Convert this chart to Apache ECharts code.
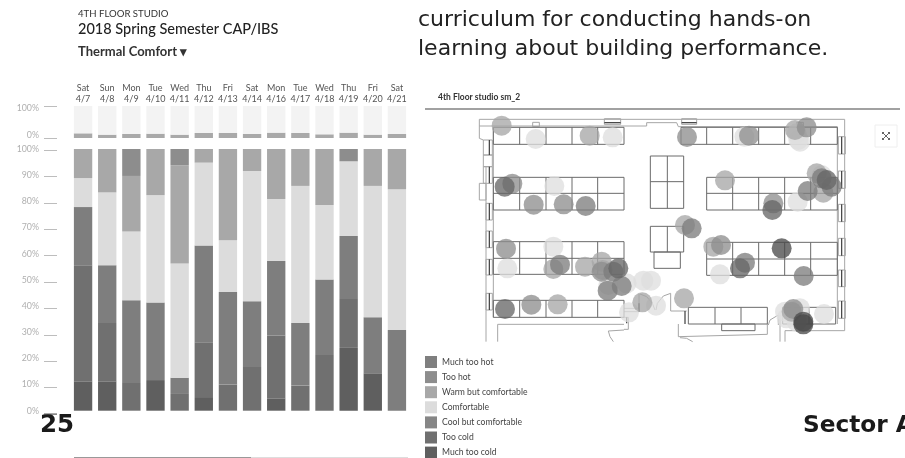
<!DOCTYPE html>
<html><head><meta charset="utf-8">
<style>html,body{margin:0;padding:0;background:#fff}#c{width:905px;height:458px}</style>
<script src="https://cdn.jsdelivr.net/npm/echarts@6/dist/echarts.min.js"></script>
</head><body><div id="c"></div>
<script>
const weekdays=['Sat','Sun','Mon','Tue','Wed','Thu','Fri','Sat','Mon','Tue','Wed','Thu','Fri','Sat'];
const dates=['4/7','4/8','4/9','4/10','4/11','4/12','4/13','4/14','4/16','4/17','4/18','4/19','4/20','4/21'];
const responseShare=[14.6,10.4,12.5,13.5,10.4,15.6,15.6,12.5,16.7,15.6,11.5,16.7,10.4,12.5];
const muchTooCold=[11.2,11.2,0,11.7,0,5.2,0,0,4.7,0,0,24,14.3,0];
const tooCold=[44.4,22.3,10.6,0,6.4,21,10,16.7,24,9.6,21.3,18.7,0,0];
const coolComfortable=[22.2,22.1,31.6,29.6,6.2,36.9,35.4,25.1,28.5,23.9,28.8,24.1,21.4,30.8];
const comfortable=[11.1,27.8,26.3,41.1,43.6,31.7,19.7,49.8,23.7,52.4,28.5,28.5,50.2,53.8];
const warmComfortable=[11.1,16.6,21.2,17.6,37.6,5.2,34.9,8.4,19.1,14.1,21.4,0,14.1,15.4];
const tooHot=[0,0,10.3,0,6.2,0,0,0,0,0,0,4.7,0,0];
const muchTooHot=[0,0,0,0,0,0,0,0,0,0,0,0,0,0];
const pctTicks=v=>v+'%';

// Occupant votes on the floor plan (plan units)
const votesComfortable=[[347,147],[578,142],[973,140],[1130,130],[1135,150],[1140,155],[403,288],[1205,255],[1133,335],[400,470],[262,535],[620,580],[670,572],[693,572],[565,585],[708,647],[627,667],[900,553],[1095,665],[1140,655],[1100,685],[1130,695],[1212,672]];
const votesWarm=[[245,107],[509,137],[915,271],[1190,250],[1125,120],[1210,308],[795,405],[880,470],[400,537],[495,530],[545,515],[548,540],[667,637],[792,625],[413,643],[1115,665]];
const votesTooHot=[[277,281],[341,344],[431,343],[801,141],[987,137],[1160,112],[258,476],[334,644],[545,545],[1120,657],[903,465],[1060,340]];
const votesCool=[[497,348],[1205,265],[1163,303],[1235,290],[975,518],[1151,558],[580,545],[815,415],[420,524],[605,588],[563,602]];
const votesTooCold=[[254,290],[1057,360],[960,535],[255,657],[595,535],[1220,270]];
const votesMuchTooCold=[[1085,475],[1150,695],[1150,703]];

// Floor plan geometry (plan units)
const deskRects=[[220,112,612,163],[783,112,1252,163],[220,262,612,360],[860,262,1252,360],[691,198,791,355],[691,409,791,486],[702,486,781,535],[220,455,612,553],[860,457,1252,556],[220,631,612,682],[805,652,1042,702],[905,702,1005,722],[1088,652,1247,702]];
const deskLines=[[220,310,612,310],[860,310,1252,310],[691,275,791,275],[220,505,612,505],[860,507,1252,507],
[299,112,299,163],[378,112,378,163],[456,112,456,163],[533,112,533,163],
[299,262,299,360],[378,262,378,360],[456,262,456,360],[533,262,533,360],
[299,455,299,553],[378,455,378,553],[456,455,456,553],[533,455,533,553],
[299,631,299,682],[378,631,378,682],[456,631,456,682],[533,631,533,682],
[860,112,860,163],[938,112,938,163],[1016,112,1016,163],[1094,112,1094,163],[1172,112,1172,163],
[938,262,938,360],[1016,262,1016,360],[1094,262,1094,360],[1172,262,1172,360],
[938,457,938,556],[1016,457,1016,556],[1094,457,1094,556],[1172,457,1172,556],
[742,198,742,355],[742,409,742,486],[885,652,885,702],[963,652,963,702],[1167,652,1167,702]];
const wallPaths=[[178,145,178,88,1274,88,1274,140],[178,145,190,150],[178,108,680,108,680,98,770,98,775,110,1252,110],
[220,112,220,682],[198,230,198,755],[1252,110,1252,702],[1274,140,1274,722],
[1095,755,1095,722,1274,722],[1080,675,1080,755],[233,755,233,703,612,703],[612,682,625,682,625,718,612,718],
[612,655,655,655],[612,665,655,665],[660,612,680,620,697,640,705,660],[752,610,730,618,712,640,708,660],
[657,612,657,665],[752,610,752,663,800,663],[775,702,775,740,1042,733,1042,702],[1045,705,1050,690,1075,675,1075,705],
[580,755,570,740,565,723,612,720],[780,743,800,745,818,755]];
const wallRects=[[190,150,217,195],[190,195,217,230],[190,230,217,280],[178,280,198,330],[198,340,217,390],[198,423,217,473],[198,508,217,555],[198,610,217,660],
[1255,140,1276,192],[1255,243,1276,295],[1255,343,1276,395],[1255,445,1276,497],[1255,540,1276,590],[1255,633,1276,685],
[553,86,602,103],[785,86,830,103],[338,97,358,110],[1130,97,1150,110]];
const windowLines=[[208,150,208,195],[208,230,208,280],[208,340,208,390],[208,423,208,473],[208,508,208,555],[208,610,208,660],
[1265,140,1265,192],[1265,243,1265,295],[1265,343,1265,395],[1265,445,1265,497],[1265,540,1265,590],[1265,633,1265,685],[553,98,602,98],[785,98,830,98],[657,640,657,665],[795,663,795,702],[620,682,620,700]];

const COL={mc:'#5f5f5f',tc:'#707070',cc:'#7e7e7e',co:'#dcdcdc',wa:'#a8a8a8',th:'#8d8d8d',mh:'#7f7f7f'};
const F='Lato',D='DejaVu Sans';
const categories=weekdays.map((d,i)=>d+'\n'+dates[i]);
const left=71,w=338;

function rectPath(r){return [r[0],r[1],r[2],r[1],r[2],r[3],r[0],r[3],r[0],r[1]];}
const planPaths=[
 ...wallPaths.map(p=>({p,c:'#a6a6a6',w:1})),
 ...wallRects.map(r=>({p:rectPath(r),c:'#a6a6a6',w:1})),
 ...deskRects.map(r=>({p:rectPath(r),c:'#6a6a6a',w:1})),
 ...deskLines.map(p=>({p,c:'#6a6a6a',w:1})),
 ...windowLines.map(p=>({p,c:'#3c3c3c',w:1.2}))
];

function barSeries(name,data,color){return {name,type:'bar',stack:'a',data,barWidth:'76%',xAxisIndex:1,yAxisIndex:1,itemStyle:{color},emphasis:{disabled:true},silent:true,animation:false};}
function voteSeries(name,data,color,z){return {name,type:'scatter',xAxisIndex:4,yAxisIndex:4,data,symbolSize:20,z,itemStyle:{color,opacity:.76},silent:true,animation:false};}

const texts=[
 ['4TH FLOOR STUDIO',78,14,9.6,'#333','400',F],
 ['2018 Spring Semester CAP/IBS',78,29,14.5,'#222','500',F],
 ['Thermal Comfort ▾',78,52,13,'#333','700',F],
 ['curriculum for conducting hands-on',418,20,22,'#222','400',D],
 ['learning about building performance.',418,49,22,'#222','400',D],
 ['25',40,426,24.5,'#1a1a1a','700',D],
 ['Sector A',803,425.5,23.2,'#1a1a1a','700',D],
 ['4th Floor studio sm_2',438,97,8.5,'#333','700',F]
];

const option={
 animation:false,
 backgroundColor:'#fff',
 grid:[
  {left,width:w,top:106,height:32},
  {left,width:w,top:149,height:261.7},
  {left,width:w,top:107.7,height:27.3},
  {left:57,width:1,top:150,height:264},
  {left:420,top:90,width:485,height:368}
 ],
 xAxis:[
  {gridIndex:0,type:'category',data:categories,position:'top',axisLine:{show:false},axisTick:{show:false},axisLabel:{interval:0,margin:2,fontFamily:F,fontSize:9,lineHeight:10.5,color:'#555'}},
  {gridIndex:1,type:'category',data:categories,show:false},
  {gridIndex:2,type:'value',show:false},
  {gridIndex:3,type:'value',show:false},
  {gridIndex:4,type:'value',min:0,max:1455,show:false}
 ],
 yAxis:[
  {gridIndex:0,type:'value',min:0,max:100,interval:100,offset:14,splitLine:{show:false},axisLine:{show:false},axisLabel:{show:false},axisTick:{show:true,length:13,lineStyle:{color:'#bdbdbd'}}},
  {gridIndex:1,type:'value',min:0,max:100,interval:10,splitLine:{show:false},axisLine:{show:false},axisTick:{show:false},axisLabel:{formatter:pctTicks,margin:32,fontFamily:F,fontSize:8.8,color:'#b0b0b0'}},
  {gridIndex:2,type:'value',min:0,max:100,interval:100,splitLine:{show:false},axisLine:{show:false},axisTick:{show:false},axisLabel:{formatter:pctTicks,margin:32,fontFamily:F,fontSize:8.8,color:'#b0b0b0'}},
  {gridIndex:3,type:'value',min:0,max:100,interval:10,splitLine:{show:false},axisLine:{show:false},axisLabel:{show:false},axisTick:{show:true,length:13,lineStyle:{color:'#bdbdbd'}}},
  {gridIndex:4,type:'value',min:0,max:1104,inverse:true,show:false}
 ],
 legend:{orient:'vertical',left:425,top:356,height:110,padding:0,itemWidth:12,itemHeight:12,itemGap:3.1,icon:'rect',selectedMode:false,
  textStyle:{fontFamily:F,fontSize:8.6,color:'#444'},
  data:[['Much too hot',COL.mh],['Too hot',COL.th],['Warm but comfortable',COL.wa],['Comfortable',COL.co],['Cool but comfortable','#868686'],['Too cold',COL.tc],['Much too cold',COL.mc]]
   .map(([name,color])=>({name,itemStyle:{color,opacity:1}}))},
 series:[
  {name:'Responses',type:'bar',stack:'t',data:responseShare,barWidth:'76%',xAxisIndex:0,yAxisIndex:0,itemStyle:{color:'#a9a9a9'},silent:true},
  {name:'Remainder',type:'bar',stack:'t',data:responseShare.map(v=>+(100-v).toFixed(1)),barWidth:'76%',xAxisIndex:0,yAxisIndex:0,itemStyle:{color:'#f3f3f3'},silent:true},
  barSeries('Much too cold',muchTooCold,COL.mc),
  barSeries('Too cold',tooCold,COL.tc),
  barSeries('Cool but comfortable',coolComfortable,COL.cc),
  barSeries('Comfortable',comfortable,COL.co),
  barSeries('Warm but comfortable',warmComfortable,COL.wa),
  barSeries('Too hot',tooHot,COL.th),
  barSeries('Much too hot',muchTooHot,COL.mh),
  {type:'custom',xAxisIndex:4,yAxisIndex:4,silent:true,z:3,clip:false,
   data:planPaths.map((_,i)=>[i,0]),
   renderItem:(params,api)=>{const o=planPaths[params.dataIndex],pts=[];
    for(let i=0;i<o.p.length;i+=2)pts.push(api.coord([o.p[i],o.p[i+1]]));
    return {type:'polyline',shape:{points:pts},style:{stroke:o.c,lineWidth:o.w,fill:null}};}},
  voteSeries('Comfortable',votesComfortable,'#dedede',4),
  voteSeries('Warm but comfortable',votesWarm,'#a6a6a6',5),
  voteSeries('Too hot',votesTooHot,'#8d8d8d',6),
  voteSeries('Cool but comfortable',votesCool,'#7c7c7c',7),
  voteSeries('Too cold',votesTooCold,'#656565',8),
  voteSeries('Much too cold',votesMuchTooCold,'#484848',9)
 ],
 graphic:[
  ...texts.map(t=>({type:'text',x:t[1],y:t[2],z:20,silent:true,style:{text:t[0],fontFamily:t[6],fontSize:t[3],fill:t[4],fontWeight:t[5],textVerticalAlign:'middle'}})),
  {type:'line',z:20,shape:{x1:425,y1:109,x2:900,y2:109},style:{stroke:'#444',lineWidth:1.2}},
  {type:'line',z:20,shape:{x1:74,y1:457.5,x2:251,y2:457.5},style:{stroke:'#999',lineWidth:1}},
  {type:'line',z:20,shape:{x1:251,y1:457.5,x2:408,y2:457.5},style:{stroke:'#ddd',lineWidth:1}},
  {type:'line',z:20,shape:{x1:44,y1:414,x2:57,y2:414},style:{stroke:'#555',lineWidth:1}},
  {type:'rect',z:20,shape:{x:875,y:125,width:22,height:22},style:{fill:'#fff',stroke:'#eee',lineWidth:1}},
  {type:'line',z:21,shape:{x1:883,y1:133,x2:889,y2:139},style:{stroke:'#666',lineWidth:1}},
  {type:'line',z:21,shape:{x1:889,y1:133,x2:883,y2:139},style:{stroke:'#666',lineWidth:1}},
  {type:'rect',z:21,shape:{x:882,y:132,width:2,height:2},style:{fill:'#666'}},
  {type:'rect',z:21,shape:{x:888,y:132,width:2,height:2},style:{fill:'#666'}},
  {type:'rect',z:21,shape:{x:882,y:138,width:2,height:2},style:{fill:'#666'}},
  {type:'rect',z:21,shape:{x:888,y:138,width:2,height:2},style:{fill:'#666'}}
 ]
};
echarts.init(document.getElementById('c'),null,{renderer:'canvas'}).setOption(option);
</script></body></html>
